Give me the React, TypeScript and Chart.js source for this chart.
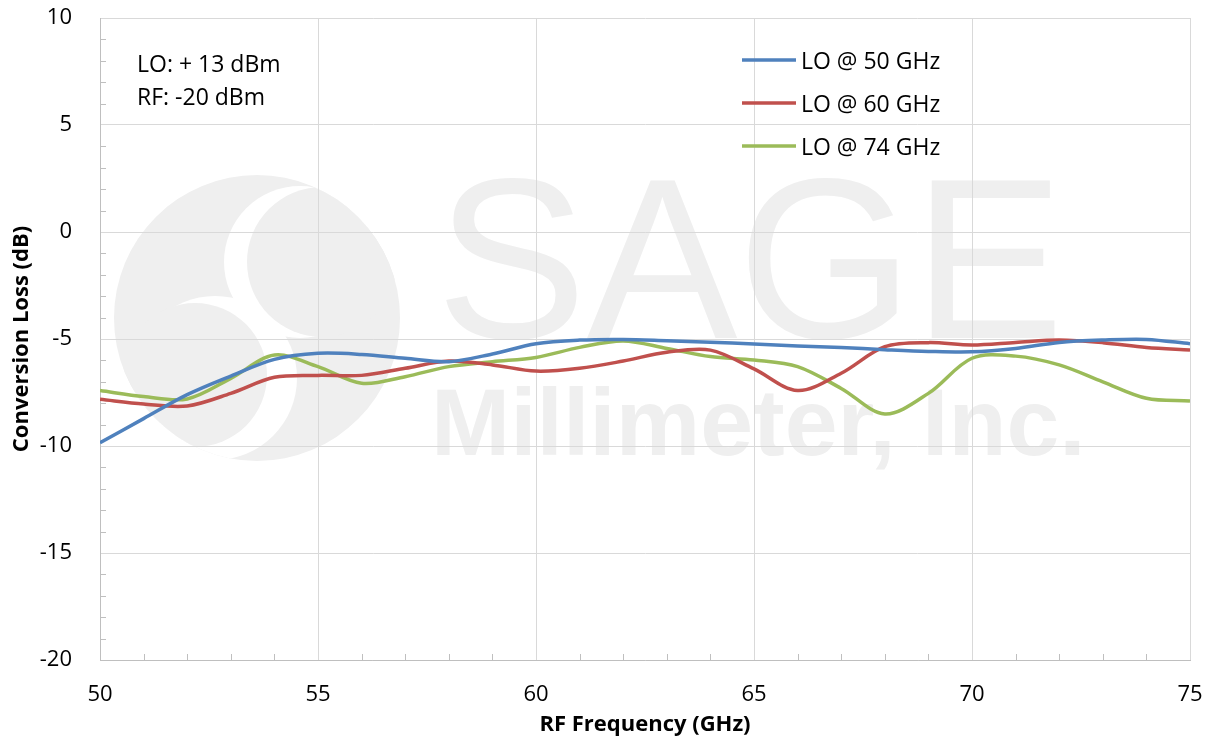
import React, { useEffect, useRef } from 'react';
import { Chart, registerables } from 'chart.js';

Chart.register(...registerables);

// ---------- data ----------
const frequencies = [50, 51, 52, 53, 54, 55, 56, 57, 58, 59, 60, 61, 62, 63, 64, 65, 66, 67, 68, 69, 70, 71, 72, 73, 74, 75];
const lo50 = [-9.85, -8.72, -7.6, -6.73, -5.95, -5.67, -5.72, -5.9, -6.06, -5.7, -5.22, -5.05, -5.02, -5.08, -5.15, -5.23, -5.33, -5.4, -5.5, -5.58, -5.6, -5.44, -5.16, -5.05, -5.02, -5.22];
const lo60 = [-7.82, -8.04, -8.13, -7.54, -6.79, -6.7, -6.7, -6.37, -6.03, -6.21, -6.5, -6.37, -6.03, -5.62, -5.52, -6.4, -7.41, -6.6, -5.36, -5.17, -5.28, -5.16, -5.05, -5.17, -5.4, -5.51];
const lo74 = [-7.41, -7.69, -7.8, -6.84, -5.75, -6.29, -7.07, -6.76, -6.29, -6.06, -5.86, -5.39, -5.09, -5.44, -5.82, -5.98, -6.29, -7.31, -8.5, -7.54, -5.9, -5.8, -6.21, -7.0, -7.77, -7.9];
const seriesLabels = ['LO @ 50 GHz', 'LO @ 60 GHz', 'LO @ 74 GHz'];
const seriesColors = ['#4f81bd', '#c0504d', '#9bbb59'];
const xTicks = [50, 55, 60, 65, 70, 75];
const yTicks = [-20, -15, -10, -5, 0, 5, 10];
const xMinorTicks = [51, 52, 53, 54, 56, 57, 58, 59, 61, 62, 63, 64, 66, 67, 68, 69, 71, 72, 73, 74];
const yMinorTicks = [-19, -18, -17, -16, -14, -13, -12, -11, -9, -8, -7, -6, -4, -3, -2, -1, 1, 2, 3, 4, 6, 7, 8, 9];
const noteLines = ['LO: + 13 dBm', 'RF: -20 dBm'];
const xTitle = 'RF Frequency (GHz)';
const yTitle = 'Conversion Loss (dB)';
const watermarkTop = 'SAGE';
const watermarkBottom = 'Millimeter, Inc.';

const FONT = '"Open Sans", sans-serif';

const watermarkPlugin = {
  id: 'watermark',
  beforeDraw(chart: any) {
    const ctx = chart.ctx;
    const gray = '#efefef';
    ctx.save();
    // logo
    ctx.fillStyle = gray;
    ctx.beginPath();
    ctx.arc(257, 318, 143, 0, Math.PI * 2);
    ctx.fill();
    ctx.save();
    ctx.beginPath();
    ctx.arc(257, 318, 143, 0, Math.PI * 2);
    ctx.clip();
    ctx.fillStyle = '#ffffff';
    ctx.beginPath();
    ctx.arc(300, 262, 76, 0, Math.PI * 2);
    ctx.fill();
    ctx.fillStyle = gray;
    ctx.beginPath();
    ctx.arc(322, 262, 75, 0, Math.PI * 2);
    ctx.fill();
    ctx.fillStyle = '#ffffff';
    ctx.beginPath();
    ctx.arc(215, 378, 82, 0, Math.PI * 2);
    ctx.fill();
    ctx.fillStyle = gray;
    ctx.beginPath();
    ctx.arc(195, 375, 72, 0, Math.PI * 2);
    ctx.fill();
    ctx.restore();
    // text
    ctx.fillStyle = gray;
    ctx.textAlign = 'left';
    ctx.textBaseline = 'alphabetic';
    ctx.font = '229px "Liberation Sans", sans-serif';
    ctx.fillText(watermarkTop, 436, 338, 628);
    ctx.font = 'bold 95px "Liberation Sans", sans-serif';
    ctx.fillText(watermarkBottom, 431, 455, 670);
    ctx.restore();
  },
};

const decorPlugin = {
  id: 'decor',
  afterDatasetsDraw(chart: any) {
    const ctx = chart.ctx;
    const xs = chart.scales.x;
    const ys = chart.scales.y;
    const area = chart.chartArea;
    ctx.save();
    // minor ticks
    ctx.strokeStyle = '#bfbfbf';
    ctx.lineWidth = 1;
    ctx.beginPath();
    xMinorTicks.forEach((v) => {
      const px = Math.round(xs.getPixelForValue(v)) + 0.5;
      ctx.moveTo(px, area.bottom);
      ctx.lineTo(px, area.bottom - 6);
    });
    yMinorTicks.forEach((v) => {
      const py = Math.round(ys.getPixelForValue(v)) + 0.5;
      ctx.moveTo(area.left, py);
      ctx.lineTo(area.left + 6, py);
    });
    ctx.stroke();

    // note text
    ctx.fillStyle = '#000';
    ctx.font = `23px ${FONT}`;
    ctx.textAlign = 'left';
    ctx.textBaseline = 'alphabetic';
    ctx.fillText(noteLines[0], 137, 72);
    ctx.fillText(noteLines[1], 137, 105);

    // legend
    const rowY = [60, 103, 146];
    chart.data.datasets.forEach((ds: any, i: number) => {
      ctx.strokeStyle = ds.borderColor;
      ctx.lineWidth = 3.5;
      ctx.beginPath();
      ctx.moveTo(742, rowY[i]);
      ctx.lineTo(796, rowY[i]);
      ctx.stroke();
      ctx.fillStyle = '#000';
      ctx.fillText(ds.label, 801, rowY[i] + 8.5);
    });
    ctx.restore();
  },
};

export default function App() {
  const canvasRef = useRef<HTMLCanvasElement | null>(null);

  useEffect(() => {
    if (!canvasRef.current) return;
    const series = [lo50, lo60, lo74];
    const chart = new Chart(canvasRef.current, {
      type: 'line',
      data: {
        datasets: series.map((vals, i) => ({
          label: seriesLabels[i],
          data: frequencies.map((f, j) => ({ x: f, y: vals[j] })),
          borderColor: seriesColors[i],
          backgroundColor: seriesColors[i],
          borderWidth: 3.5,
          pointRadius: 0,
          tension: 0.33,
          fill: false,
        })),
      },
      options: {
        responsive: false,
        animation: false,
        events: [],
        layout: { padding: { top: 18, right: 21, left: 0, bottom: 0 } },
        plugins: {
          legend: { display: false },
          tooltip: { enabled: false },
          title: { display: false },
        },
        scales: {
          x: {
            type: 'linear',
            min: 50,
            max: 75,
            afterBuildTicks: (s: any) => {
              s.ticks = xTicks.map((v) => ({ value: v }));
            },
            afterFit: (s: any) => {
              s.height = 80;
              s.paddingLeft = 0;
              s.paddingRight = 0;
            },
            ticks: {
              color: '#000',
              font: { family: FONT, size: 22 },
              padding: 22,
              maxRotation: 0,
              autoSkip: false,
            },
            grid: { color: '#d9d9d9', lineWidth: 1, drawTicks: false },
            border: { color: '#bfbfbf', width: 1 },
            title: {
              display: true,
              text: xTitle,
              color: '#000',
              font: { family: FONT, size: 22, weight: 'bold' },
              padding: { top: 0, bottom: 2 },
            },
          },
          y: {
            type: 'linear',
            min: -20,
            max: 10,
            afterBuildTicks: (s: any) => {
              s.ticks = yTicks.map((v) => ({ value: v }));
            },
            afterFit: (s: any) => {
              s.width = 100;
              s.paddingTop = 0;
              s.paddingBottom = 0;
            },
            ticks: {
              color: '#000',
              font: { family: FONT, size: 22 },
              padding: 28,
              autoSkip: false,
            },
            grid: { color: '#d9d9d9', lineWidth: 1, drawTicks: false },
            border: { color: '#bfbfbf', width: 1 },
            title: {
              display: true,
              text: yTitle,
              color: '#000',
              font: { family: FONT, size: 22, weight: 'bold' },
              padding: { top: 9, bottom: 0 },
            },
          },
        },
      },
      plugins: [watermarkPlugin, decorPlugin],
    } as any);
    return () => chart.destroy();
  }, []);

  return (
    <div style={{ position: 'fixed', left: 0, top: 0, width: 1211, height: 740, background: '#fff' }}>
      <canvas ref={canvasRef} width={1211} height={740} style={{ width: 1211, height: 740 }} />
    </div>
  );
}
